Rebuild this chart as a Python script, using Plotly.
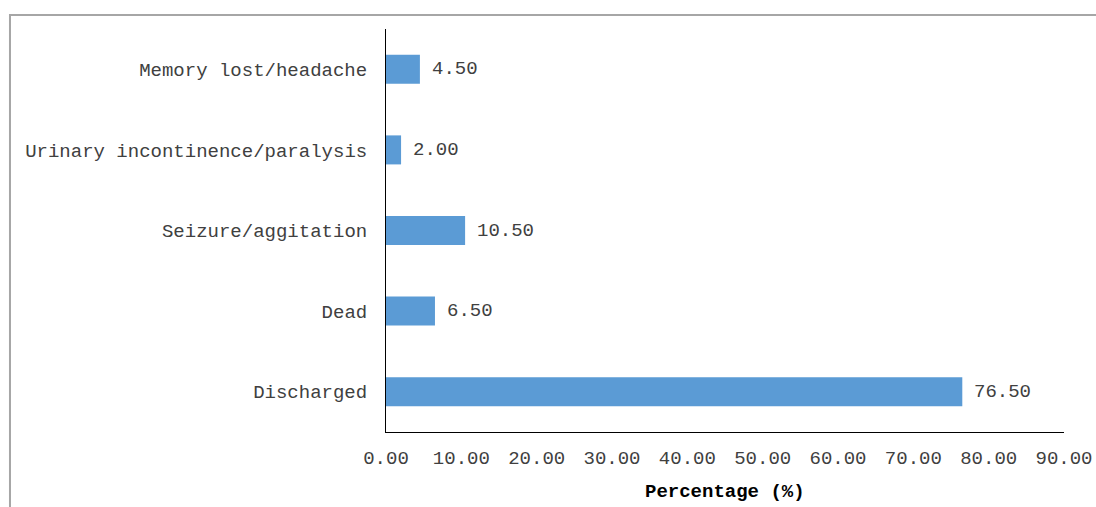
import plotly.graph_objects as go

categories = ["Discharged", "Dead", "Seizure/aggitation",
              "Urinary incontinence/paralysis", "Memory lost/headache"]
values = [76.50, 6.50, 10.50, 2.00, 4.50]
x_title = "Percentage (%)"

FONT = "Liberation Mono, DejaVu Sans Mono, monospace"
TXT = "#404040"

fig = go.Figure()
fig.add_trace(go.Bar(
    y=categories, x=values, orientation="h",
    marker=dict(color="#5B9BD5", line=dict(width=0)),
    width=0.36, hoverinfo="skip",
))

for c, v in zip(categories, values):
    fig.add_annotation(x=v, y=c, xref="x", yref="y", text=f"{v:.2f}",
                       showarrow=False, xanchor="left", xshift=10,
                       font=dict(family=FONT, size=19, color=TXT))

fig.add_annotation(x=0.5, y=-0.149, xref="paper", yref="paper",
                   text=f"<b>{x_title}</b>", showarrow=False,
                   xanchor="center", yanchor="middle",
                   font=dict(family=FONT, size=19, color="#000000"))

fig.add_shape(type="rect", xref="paper", yref="paper",
              x0=-0.5546, y0=-0.4, x1=1.2, y1=1.0347,
              line=dict(color="#A6A6A6", width=2), layer="below")

fig.update_layout(
    width=1096, height=507,
    margin=dict(l=386, r=32, t=29, b=75, autoexpand=False),
    paper_bgcolor="white", plot_bgcolor="white",
    showlegend=False,
    font=dict(family=FONT, size=19, color=TXT),
    xaxis=dict(range=[0, 90], dtick=10, tickformat=".2f",
               showgrid=False, zeroline=False, automargin=False,
               showline=True, linecolor="#000000", linewidth=1,
               ticks="", ticklabelstandoff=8,
               tickfont=dict(family=FONT, size=19, color=TXT)),
    yaxis=dict(showgrid=False, zeroline=False, automargin=False,
               showline=True, linecolor="#000000", linewidth=1,
               ticks="", ticklabelstandoff=14,
               tickfont=dict(family=FONT, size=19, color=TXT)),
)

fig.write_html("out.html")
